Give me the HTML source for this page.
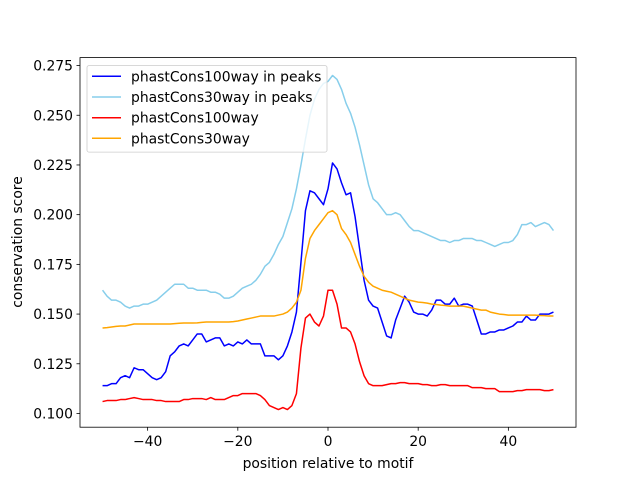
<!DOCTYPE html>
<html><head><meta charset="utf-8"><style>
body{margin:0;background:#fff}
svg text{font-family:"DejaVu Sans","Liberation Sans",sans-serif;font-size:13.9px;fill:#000}
</style></head><body>
<svg id="chart" width="640" height="480" viewBox="0 0 640 480" xmlns="http://www.w3.org/2000/svg">
<rect width="640" height="480" fill="#fff"/>
<g id="plot"></g>
<rect x="80" y="57.6" width="496" height="369.6" fill="none" stroke="#000" stroke-width="0.8"/>
<g id="xt"></g><g id="yt"></g>
<text x="328" y="468" text-anchor="middle">position relative to motif</text>
<text transform="translate(22,242) rotate(-90)" text-anchor="middle">conservation score</text>
<g>
<rect x="87" y="65.6" width="240" height="86.5" rx="2" fill="#fff" fill-opacity="0.8" stroke="#ccc" stroke-width="0.8"/>
<g><line x1="92" y1="76.3" x2="121" y2="76.3" stroke="#0000ff" stroke-width="1.5"/><text x="131" y="81.3">phastCons100way in peaks</text></g>
<g><line x1="92" y1="97" x2="121" y2="97" stroke="#87ceeb" stroke-width="1.5"/><text x="131" y="102">phastCons30way in peaks</text></g>
<g><line x1="92" y1="117.7" x2="121" y2="117.7" stroke="#ff0000" stroke-width="1.5"/><text x="131" y="122.7">phastCons100way</text></g>
<g><line x1="92" y1="138.3" x2="121" y2="138.3" stroke="#ffa500" stroke-width="1.5"/><text x="131" y="143.3">phastCons30way</text></g>
</g>
</svg>
<script>
const positions = Array.from({length:101},(_, i)=>i-50);
const peaks30 = [0.162,0.159,0.157,0.157,0.156,0.154,0.153,0.154,0.154,0.155,0.155,0.156,0.157,0.159,0.161,0.163,0.165,0.165,0.165,0.163,0.163,0.162,0.162,0.162,0.161,0.161,0.160,0.158,0.158,0.159,0.161,0.163,0.164,0.165,0.167,0.170,0.174,0.176,0.180,0.185,0.189,0.196,0.203,0.213,0.225,0.238,0.250,0.258,0.263,0.266,0.267,0.270,0.268,0.263,0.256,0.251,0.244,0.235,0.225,0.215,0.208,0.206,0.203,0.200,0.200,0.201,0.200,0.197,0.194,0.192,0.192,0.191,0.190,0.189,0.188,0.187,0.187,0.186,0.187,0.187,0.188,0.188,0.188,0.187,0.187,0.186,0.185,0.184,0.185,0.186,0.186,0.187,0.190,0.195,0.195,0.196,0.194,0.195,0.196,0.195,0.192];
const peaks100 = [0.114,0.114,0.115,0.115,0.118,0.119,0.118,0.123,0.122,0.122,0.120,0.118,0.117,0.118,0.121,0.129,0.131,0.134,0.135,0.134,0.137,0.140,0.140,0.136,0.137,0.138,0.138,0.134,0.135,0.134,0.136,0.135,0.137,0.135,0.135,0.135,0.129,0.129,0.129,0.127,0.129,0.134,0.141,0.151,0.176,0.202,0.212,0.211,0.208,0.205,0.213,0.226,0.223,0.216,0.210,0.211,0.199,0.183,0.167,0.157,0.154,0.153,0.146,0.139,0.138,0.147,0.153,0.159,0.156,0.151,0.150,0.150,0.149,0.152,0.157,0.157,0.155,0.155,0.158,0.154,0.155,0.155,0.154,0.147,0.140,0.140,0.141,0.141,0.142,0.142,0.143,0.144,0.146,0.146,0.149,0.147,0.147,0.150,0.150,0.150,0.151];
const all100 = [0.106,0.1065,0.1065,0.1065,0.107,0.107,0.1075,0.108,0.1075,0.107,0.107,0.107,0.1065,0.1065,0.106,0.106,0.106,0.106,0.107,0.107,0.1075,0.1075,0.1075,0.107,0.108,0.107,0.107,0.107,0.108,0.109,0.109,0.110,0.110,0.110,0.110,0.109,0.107,0.104,0.103,0.102,0.103,0.102,0.104,0.110,0.133,0.148,0.150,0.146,0.144,0.149,0.162,0.162,0.155,0.143,0.143,0.141,0.135,0.126,0.119,0.115,0.114,0.114,0.114,0.1145,0.115,0.115,0.1155,0.1155,0.115,0.115,0.115,0.1145,0.1145,0.114,0.114,0.1145,0.1145,0.114,0.114,0.114,0.114,0.114,0.113,0.113,0.113,0.1125,0.1125,0.1125,0.111,0.111,0.111,0.111,0.1115,0.1115,0.112,0.112,0.112,0.112,0.1115,0.1115,0.112];
const all30 = [0.143,0.1432,0.1435,0.1438,0.144,0.144,0.1445,0.145,0.145,0.145,0.145,0.145,0.145,0.145,0.145,0.145,0.1452,0.1454,0.1455,0.1455,0.1455,0.1456,0.1458,0.146,0.146,0.146,0.146,0.146,0.146,0.1462,0.1465,0.147,0.1475,0.148,0.1485,0.149,0.149,0.149,0.149,0.1495,0.150,0.151,0.153,0.156,0.162,0.178,0.188,0.192,0.195,0.198,0.201,0.202,0.200,0.193,0.190,0.186,0.180,0.174,0.169,0.166,0.164,0.163,0.162,0.1615,0.161,0.160,0.159,0.158,0.157,0.1565,0.156,0.1558,0.1555,0.155,0.1548,0.1545,0.1543,0.154,0.154,0.154,0.154,0.1535,0.153,0.1525,0.152,0.152,0.151,0.1505,0.150,0.1498,0.1495,0.1495,0.1495,0.1495,0.1495,0.1495,0.1495,0.1493,0.1492,0.149,0.149];
const xTicks = [-40,-20,0,20,40];
const yTicks = [0.100,0.125,0.150,0.175,0.200,0.225,0.250,0.275];
const NS='http://www.w3.org/2000/svg';
const X = v => 80 + (v + 55) / 110 * 496;
const yMin = 0.0931, yMax = 0.2790;
const Y = v => 427.2 - (v - yMin) / (yMax - yMin) * 369.6;
const plot = document.getElementById('plot');
function series(data, color, name){
  const p = document.createElementNS(NS,'path');
  p.setAttribute('d', data.map((v,i)=>(i?'L':'M')+X(positions[i]).toFixed(2)+','+Y(v).toFixed(2)).join(''));
  p.setAttribute('fill','none'); p.setAttribute('stroke',color); p.setAttribute('stroke-width','1.5');
  p.setAttribute('stroke-linejoin','round');
  
  
  plot.appendChild(p);
}
series(peaks100,'#0000ff','line-phastcons100way-in-peaks');
series(peaks30,'#87ceeb','line-phastcons30way-in-peaks');
series(all100,'#ff0000','line-phastcons100way');
series(all30,'#ffa500','line-phastcons30way');
const xt = document.getElementById('xt');
xTicks.forEach(t=>{
  const g = document.createElementNS(NS,'g');
  
  
  g.innerHTML = `<line x1="${X(t)}" y1="427.2" x2="${X(t)}" y2="430.7" stroke="#000" stroke-width="0.8"/><text x="${X(t)}" y="446" text-anchor="middle">${t<0?'\u2212'+(-t):t}</text>`;
  xt.appendChild(g);
});
const yt = document.getElementById('yt');
yTicks.forEach(t=>{
  const g = document.createElementNS(NS,'g');
  
  
  g.innerHTML = `<line x1="76.5" y1="${Y(t)}" x2="80" y2="${Y(t)}" stroke="#000" stroke-width="0.8"/><text x="73" y="${Y(t)+5}" text-anchor="end">${t.toFixed(3)}</text>`;
  yt.appendChild(g);
});
</script>
</body></html>
